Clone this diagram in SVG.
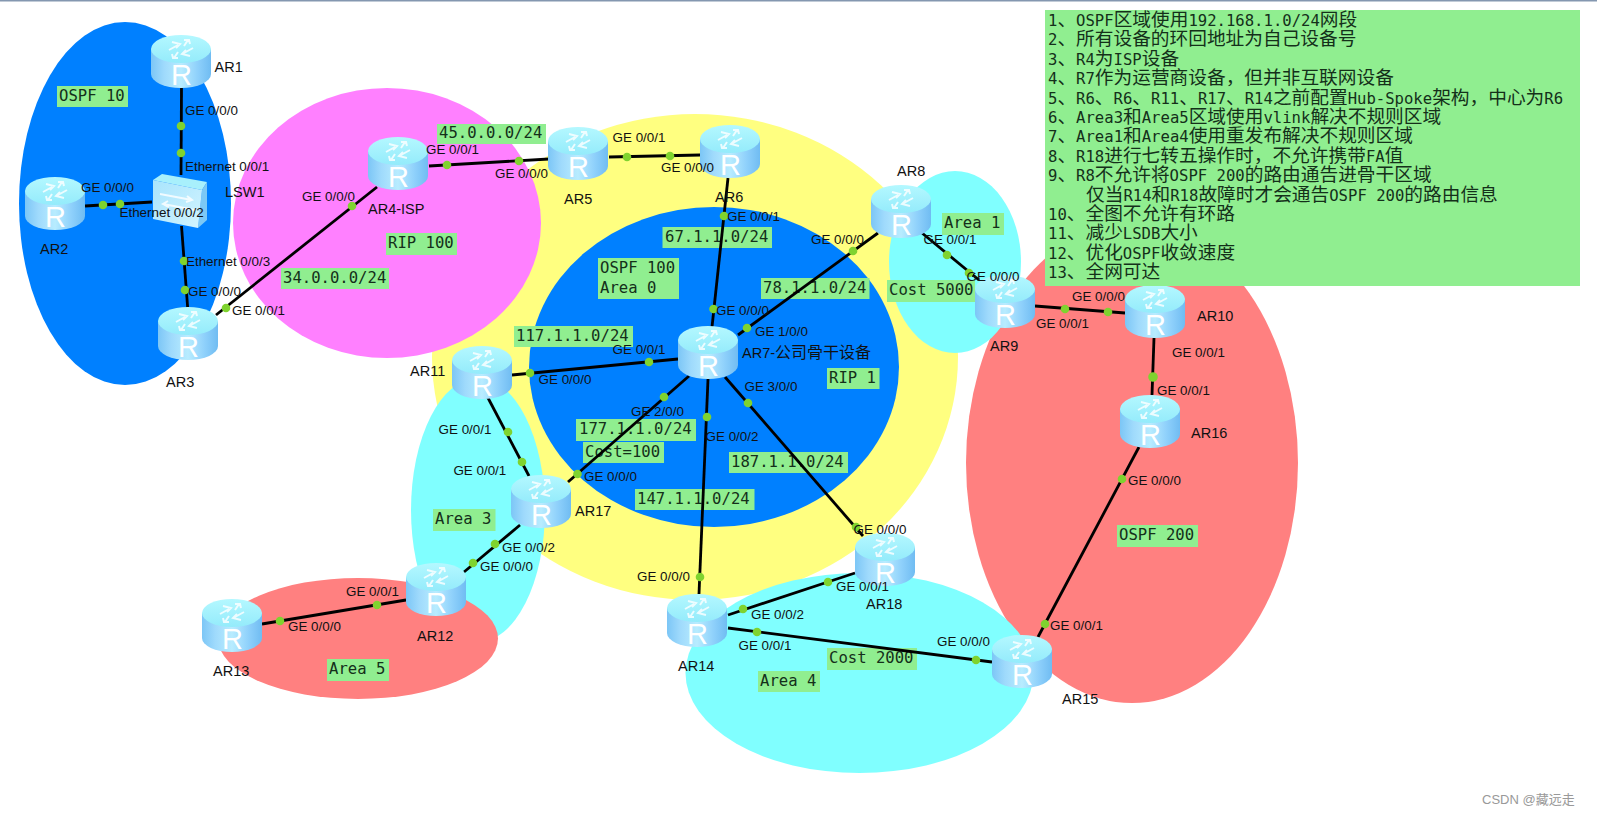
<svg xmlns="http://www.w3.org/2000/svg" width="1597" height="815" viewBox="0 0 1597 815">
<style>
text{font-family:"Liberation Sans",Arial,"Noto Sans CJK SC",sans-serif;fill:#111}
.p{font-size:13.4px}
.n{font-size:14.5px}
.c{font-family:"Noto Sans CJK SC",sans-serif;font-size:18.7px}
.m{font-family:"DejaVu Sans Mono","Noto Sans CJK SC",monospace;font-size:15.6px;fill:#14301a}
.b{fill:#90ee90}
.l{stroke:#000;stroke-width:2.8;fill:none}
.d{fill:#7fd32f}
.cj{font-family:"Noto Sans CJK SC",sans-serif;font-size:16px}
.r{font-family:"Liberation Sans",sans-serif;font-size:29px;fill:#fff}
.a{fill:none;stroke:#fff;stroke-width:2;opacity:.8}
</style>
<defs>
<linearGradient id="side" x1="0" x2="1" y1="0" y2="0">
<stop offset="0" stop-color="#7cc6f6"/><stop offset=".22" stop-color="#9fdafc"/><stop offset=".5" stop-color="#b8ecff"/><stop offset=".78" stop-color="#8ed0fb"/><stop offset="1" stop-color="#70bcf2"/>
</linearGradient>
<linearGradient id="top" x1="0" x2="0" y1="0" y2="1">
<stop offset="0" stop-color="#b4f8ff"/><stop offset="1" stop-color="#94ebfb"/>
</linearGradient>
<linearGradient id="front" x1="0" x2="1" y1="0" y2="1">
<stop offset="0" stop-color="#a8e4fc"/><stop offset="1" stop-color="#d2f4ff"/>
</linearGradient>
<g id="router">
<path d="M0,14V39A30,14 0 0 0 60,39V14Z" fill="url(#side)"/>
<ellipse cx="30" cy="14" rx="30" ry="14" fill="url(#top)"/>
<path class="a" d="M18,15L27,10M21,7L29,9L25,13M42,13L33,18M39,21L31,19L35,15M37,5L33,11M33,5L38,5L39,9M23,23L27,17M27,23L22,23L21,19"/>
<text class="r" x="20" y="50">R</text>
</g>
</defs>
<rect width="1597" height="1.5" fill="#8497b0"/>
<g id="regions">
<ellipse cx="695" cy="357" rx="263" ry="243" fill="#ffff80"/>
<ellipse cx="125" cy="203.500" rx="106" ry="181.500" fill="#0080ff"/>
<ellipse cx="387" cy="223" rx="154" ry="135" fill="#ff80ff"/>
<ellipse cx="714" cy="367" rx="185" ry="160" fill="#0080ff"/>
<ellipse cx="1132" cy="463" rx="166" ry="240" fill="#ff8080"/>
<ellipse cx="955" cy="262" rx="66" ry="91" fill="#80ffff"/>
<ellipse cx="478" cy="510" rx="67" ry="132" fill="#80ffff"/>
<ellipse cx="358" cy="638.500" rx="140" ry="60.500" fill="#ff8080"/>
<ellipse cx="859.500" cy="673" rx="174" ry="100" fill="#80ffff"/>
</g>
<g id="labels">
<rect class="b" x="57" y="86" width="71" height="21"/><text class="m" x="59" y="101">OSPF 10</text>
<rect class="b" x="386" y="233" width="71" height="22"/><text class="m" x="388" y="248">RIP 100</text>
<rect class="b" x="281" y="268" width="108" height="21"/><text class="m" x="283" y="283">34.0.0.0/24</text>
<rect class="b" x="437" y="124" width="109" height="20"/><text class="m" x="439" y="138">45.0.0.0/24</text>
<rect class="b" x="514" y="326" width="119" height="21"/><text class="m" x="516" y="341">117.1.1.0/24</text>
<rect class="b" x="662.500" y="227" width="109.500" height="21"/><text class="m" x="665" y="242">67.1.1.0/24</text>
<rect class="b" x="598" y="258" width="81" height="41"/><text class="m" x="600" y="273">OSPF 100</text><text class="m" x="600" y="293">Area 0</text>
<rect class="b" x="761" y="278" width="108.500" height="21"/><text class="m" x="763" y="293">78.1.1.0/24</text>
<rect class="b" x="942" y="213" width="62" height="22"/><text class="m" x="944" y="228">Area 1</text>
<rect class="b" x="887" y="280" width="88" height="22"/><text class="m" x="889" y="295">Cost 5000</text>
<rect class="b" x="827" y="368" width="52.500" height="21"/><text class="m" x="829" y="383">RIP 1</text>
<rect class="b" x="576" y="419" width="120" height="22"/><text class="m" x="579" y="434">177.1.1.0/24</text>
<rect class="b" x="583" y="442" width="81" height="21"/><text class="m" x="585" y="457">Cost=100</text>
<rect class="b" x="729" y="452" width="119" height="21"/><text class="m" x="731" y="467">187.1.1.0/24</text>
<rect class="b" x="635" y="489" width="119.500" height="21"/><text class="m" x="637" y="504">147.1.1.0/24</text>
<rect class="b" x="433" y="509" width="62.500" height="22"/><text class="m" x="435" y="524">Area 3</text>
<rect class="b" x="327" y="659" width="62" height="22"/><text class="m" x="329" y="674">Area 5</text>
<rect class="b" x="827" y="648" width="90" height="22"/><text class="m" x="829" y="663">Cost 2000</text>
<rect class="b" x="758" y="671" width="62" height="21"/><text class="m" x="760" y="686">Area 4</text>
<rect class="b" x="1117" y="525" width="81" height="22"/><text class="m" x="1119" y="540">OSPF 200</text>
</g>
<g id="connectors">
<path class="l" d="M181.500,88L181,175"/>
<path class="l" d="M85,206L152,202"/>
<path class="l" d="M181.500,226L187.700,308"/>
<path class="l" d="M216,315L377,187"/>
<path class="l" d="M429,166L549,159"/>
<path class="l" d="M609,157L700,155"/>
<path class="l" d="M728,178L712,327"/>
<path class="l" d="M738,335L878,233"/>
<path class="l" d="M922,233L979,280"/>
<path class="l" d="M1035,306L1125,313"/>
<path class="l" d="M1154,338L1152,395"/>
<path class="l" d="M1139,447L1038,637"/>
<path class="l" d="M678,359L512,375"/>
<path class="l" d="M487,396L529,476"/>
<path class="l" d="M689,376L568,482"/>
<path class="l" d="M708,379L699,594"/>
<path class="l" d="M725,377L863,536"/>
<path class="l" d="M520,525L464,572"/>
<path class="l" d="M406,600L262,624"/>
<path class="l" d="M728,615L855,573"/>
<path class="l" d="M728,628L992,662"/>
<g id="ports">
<circle class="d" cx="181" cy="126" r="4.300"/><circle class="d" cx="181" cy="153" r="4.300"/><circle class="d" cx="103" cy="205" r="4.300"/><circle class="d" cx="120" cy="204" r="4.300"/><circle class="d" cx="184" cy="261" r="4.300"/><circle class="d" cx="185" cy="290" r="4.300"/><circle class="d" cx="226" cy="308" r="4.300"/><circle class="d" cx="352" cy="206" r="4.300"/><circle class="d" cx="447" cy="165" r="4.300"/><circle class="d" cx="519" cy="161" r="4.300"/>
<circle class="d" cx="627" cy="157" r="4.300"/><circle class="d" cx="670" cy="156" r="4.300"/><circle class="d" cx="724" cy="216" r="4.300"/><circle class="d" cx="713.500" cy="309" r="4.300"/><circle class="d" cx="747" cy="328" r="4.300"/><circle class="d" cx="853" cy="251" r="4.300"/><circle class="d" cx="947" cy="255" r="4.300"/><circle class="d" cx="969" cy="273" r="4.300"/><circle class="d" cx="649" cy="362" r="4.300"/><circle class="d" cx="530" cy="373" r="4.300"/><circle class="d" cx="664" cy="397" r="4.300"/><circle class="d" cx="707" cy="417" r="4.300"/><circle class="d" cx="748" cy="403" r="4.300"/><circle class="d" cx="577.500" cy="474" r="4.300"/><circle class="d" cx="508" cy="432" r="4.300"/><circle class="d" cx="522" cy="462" r="4.300"/>
<circle class="d" cx="1065" cy="309" r="4.300"/><circle class="d" cx="1108" cy="312" r="4.300"/><circle class="d" cx="1153" cy="377" r="4.800"/><circle class="d" cx="1122" cy="479" r="4.300"/>
<circle class="d" cx="976" cy="660" r="4.300"/><circle class="d" cx="757" cy="632" r="4.300"/><circle class="d" cx="743" cy="609" r="4.300"/><circle class="d" cx="828" cy="582" r="4.300"/><circle class="d" cx="1045" cy="624" r="4.300"/><circle class="d" cx="700" cy="577" r="4.300"/><circle class="d" cx="856" cy="527" r="4.300"/>
<circle class="d" cx="495" cy="544" r="4.300"/><circle class="d" cx="473" cy="563" r="4.300"/><circle class="d" cx="377" cy="605" r="4.300"/><circle class="d" cx="280" cy="621" r="4.300"/>
</g>
</g>
<g id="AR1"><use href="#router" x="151" y="35"/><text class="n" x="214.500" y="72">AR1</text></g>
<g id="AR2"><use href="#router" x="25" y="177"/><text class="n" x="40" y="254">AR2</text></g>
<g id="AR3"><use href="#router" x="158" y="307"/><text class="n" x="166" y="387">AR3</text></g>
<g id="AR4"><use href="#router" x="368" y="137"/><text class="n" x="368" y="214">AR4-ISP</text></g>
<g id="AR5"><use href="#router" x="548" y="127"/><text class="n" x="564" y="204">AR5</text></g>
<g id="AR6"><use href="#router" x="700" y="125"/><text class="n" x="715" y="202">AR6</text></g>
<g id="AR7"><use href="#router" x="678" y="326"/><text class="n" x="742" y="358">AR7-<tspan class="cj">公司骨干设备</tspan></text></g>
<g id="AR8"><use href="#router" x="871" y="185"/><text class="n" x="897" y="176">AR8</text></g>
<g id="AR9"><use href="#router" x="975" y="275"/><text class="n" x="990" y="351">AR9</text></g>
<g id="AR10"><use href="#router" x="1125" y="285"/><text class="n" x="1197" y="321">AR10</text></g>
<g id="AR11"><use href="#router" x="452" y="346"/><text class="n" x="410" y="376">AR11</text></g>
<g id="AR12"><use href="#router" x="406" y="563"/><text class="n" x="417" y="641">AR12</text></g>
<g id="AR13"><use href="#router" x="202" y="599"/><text class="n" x="213" y="676">AR13</text></g>
<g id="AR14"><use href="#router" x="667" y="594"/><text class="n" x="678" y="671">AR14</text></g>
<g id="AR15"><use href="#router" x="992" y="635"/><text class="n" x="1062" y="704">AR15</text></g>
<g id="AR16"><use href="#router" x="1120" y="395"/><text class="n" x="1191" y="438">AR16</text></g>
<g id="AR17"><use href="#router" x="511" y="475"/><text class="n" x="575" y="516">AR17</text></g>
<g id="AR18"><use href="#router" x="855" y="533"/><text class="n" x="866" y="609">AR18</text></g>
<g id="LSW1">
<path d="M153,180L162,174L207,182L202,190Z" fill="#a8f0fc"/>
<path d="M202,190L207,182L207,220L198,228Z" fill="#7cc8f5"/>
<path d="M153,180L202,190L198,228L153,219Z" fill="url(#front)"/>
<path class="a" d="M160,194L192,200m-5,-4l5,4l-6,2M195,210L163,204m5,-3l-5,3l6,3"/>
<text class="n" x="225" y="197">LSW1</text>
</g>
<g id="ports-labels">
<text class="p" x="185" y="115">GE 0/0/0</text>
<text class="p" x="185" y="171">Ethernet 0/0/1</text>
<text class="p" x="81" y="192">GE 0/0/0</text>
<text class="p" x="119.500" y="217">Ethernet 0/0/2</text>
<text class="p" x="186" y="266">Ethernet 0/0/3</text>
<text class="p" x="188" y="296">GE 0/0/0</text>
<text class="p" x="232" y="315">GE 0/0/1</text>
<text class="p" x="302" y="201">GE 0/0/0</text>
<text class="p" x="426" y="154">GE 0/0/1</text>
<text class="p" x="495" y="178">GE 0/0/0</text>
<text class="p" x="612.600" y="142">GE 0/0/1</text>
<text class="p" x="661" y="172">GE 0/0/0</text>
<text class="p" x="727" y="221">GE 0/0/1</text>
<text class="p" x="811" y="244">GE 0/0/0</text>
<text class="p" x="923.500" y="244">GE 0/0/1</text>
<text class="p" x="966.600" y="281">GE 0/0/0</text>
<text class="p" x="716" y="315">GE 0/0/0</text>
<text class="p" x="755" y="336">GE 1/0/0</text>
<text class="p" x="612.600" y="354">GE 0/0/1</text>
<text class="p" x="538.600" y="384">GE 0/0/0</text>
<text class="p" x="744.500" y="391">GE 3/0/0</text>
<text class="p" x="631" y="416">GE 2/0/0</text>
<text class="p" x="705.600" y="441">GE 0/0/2</text>
<text class="p" x="584" y="481">GE 0/0/0</text>
<text class="p" x="438.600" y="434">GE 0/0/1</text>
<text class="p" x="453.400" y="475">GE 0/0/1</text>
<text class="p" x="502" y="552">GE 0/0/2</text>
<text class="p" x="480" y="571">GE 0/0/0</text>
<text class="p" x="346" y="596">GE 0/0/1</text>
<text class="p" x="288" y="631">GE 0/0/0</text>
<text class="p" x="637" y="581">GE 0/0/0</text>
<text class="p" x="853.500" y="534">GE 0/0/0</text>
<text class="p" x="836" y="591">GE 0/0/1</text>
<text class="p" x="751" y="619">GE 0/0/2</text>
<text class="p" x="738.500" y="650">GE 0/0/1</text>
<text class="p" x="937" y="646">GE 0/0/0</text>
<text class="p" x="1050" y="630">GE 0/0/1</text>
<text class="p" x="1072" y="301">GE 0/0/0</text>
<text class="p" x="1036" y="328">GE 0/0/1</text>
<text class="p" x="1172" y="357">GE 0/0/1</text>
<text class="p" x="1157" y="395">GE 0/0/1</text>
<text class="p" x="1128" y="485">GE 0/0/0</text>
</g>
<g id="notes">
<rect class="b" x="1045" y="10" width="535" height="276"/>
<text class="m" x="1048" y="26">1<tspan class="c">、</tspan>OSPF<tspan class="c">区域使用</tspan>192.168.1.0/24<tspan class="c">网段</tspan></text>
<text class="m" x="1048" y="45.400">2<tspan class="c">、所有设备的环回地址为自己设备号</tspan></text>
<text class="m" x="1048" y="64.800">3<tspan class="c">、</tspan>R4<tspan class="c">为</tspan>ISP<tspan class="c">设备</tspan></text>
<text class="m" x="1048" y="84.200">4<tspan class="c">、</tspan>R7<tspan class="c">作为运营商设备，但并非互联网设备</tspan></text>
<text class="m" x="1048" y="103.600">5<tspan class="c">、</tspan>R6<tspan class="c">、</tspan>R6<tspan class="c">、</tspan>R11<tspan class="c">、</tspan>R17<tspan class="c">、</tspan>R14<tspan class="c">之前配置</tspan>Hub-Spoke<tspan class="c">架构，中心为</tspan>R6</text>
<text class="m" x="1048" y="123">6<tspan class="c">、</tspan>Area3<tspan class="c">和</tspan>Area5<tspan class="c">区域使用</tspan>vlink<tspan class="c">解决不规则区域</tspan></text>
<text class="m" x="1048" y="142.400">7<tspan class="c">、</tspan>Area1<tspan class="c">和</tspan>Area4<tspan class="c">使用重发布解决不规则区域</tspan></text>
<text class="m" x="1048" y="161.800">8<tspan class="c">、</tspan>R18<tspan class="c">进行七转五操作时，不允许携带</tspan>FA<tspan class="c">值</tspan></text>
<text class="m" x="1048" y="181.200">9<tspan class="c">、</tspan>R8<tspan class="c">不允许将</tspan>OSPF 200<tspan class="c">的路由通告进骨干区域</tspan></text>
<text class="m" x="1086" y="200.600"><tspan class="c">仅当</tspan>R14<tspan class="c">和</tspan>R18<tspan class="c">故障时才会通告</tspan>OSPF 200<tspan class="c">的路由信息</tspan></text>
<text class="m" x="1048" y="220">10<tspan class="c">、全图不允许有环路</tspan></text>
<text class="m" x="1048" y="239.400">11<tspan class="c">、减少</tspan>LSDB<tspan class="c">大小</tspan></text>
<text class="m" x="1048" y="258.800">12<tspan class="c">、优化</tspan>OSPF<tspan class="c">收敛速度</tspan></text>
<text class="m" x="1048" y="278.200">13<tspan class="c">、全网可达</tspan></text>
</g>
<text x="1482" y="804" style="font-size:13px;fill:#999">CSDN @<tspan style="font-family:'Noto Sans CJK SC',sans-serif;fill:#999">藏远走</tspan></text>
</svg>
